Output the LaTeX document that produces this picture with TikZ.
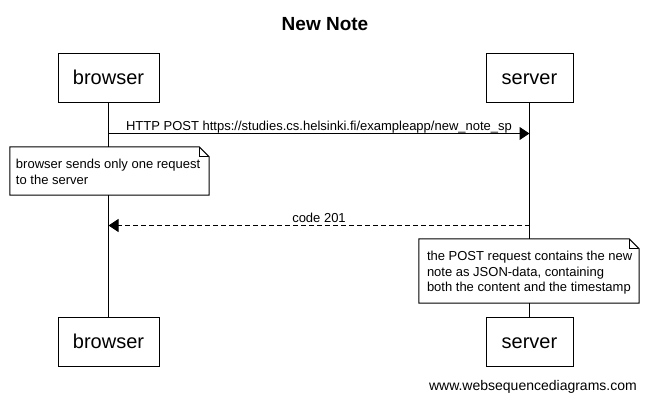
\documentclass[tikz,border=0pt]{standalone}
\usepackage{fontspec}
\setmainfont{Liberation Sans}
\usetikzlibrary{arrows.meta,calc}
\begin{document}
\begin{tikzpicture}[x=1pt,y=-1pt,
  actor/.style={draw,line width=1pt,minimum height=49pt,inner sep=0pt,
    text height=14pt,text depth=0pt,font=\fontsize{20}{24}\selectfont},
  life/.style={line width=1pt},
  msg/.style={line width=1pt,-{Triangle[length=10pt,width=13pt]}},
  reply/.style={msg,dash pattern=on 5pt off 3pt},
  msglabel/.style={font=\fontsize{13}{16}\selectfont,anchor=base,inner sep=0pt,yshift=3.5pt},
  notebox/.style={fill=white,inner sep=0pt},
  notetext/.style={anchor=west,inner sep=0pt,align=left,font=\fontsize{13}{16}\selectfont},
  noteline/.style={line width=1pt,line join=miter}
]
\useasboundingbox (0,0) rectangle (649,400);

\node[font=\fontsize{19}{23}\selectfont\bfseries,anchor=base] (title) at (325,30) {New Note};

\node[actor,minimum width=101pt] (bt) at (108.5,77.5) {browser};
\node[actor,minimum width=87pt] (st) at (529.5,77.5) {server};
\node[actor,minimum width=101pt] (bb) at (108.5,341.5) {browser};
\node[actor,minimum width=87pt] (sb) at (529.5,341.5) {server};

\draw[life] (bt.south) -- (bb.north);
\draw[life] (st.south) -- (sb.north);

\path (bt.south) ++(0,31) coordinate (b1);
\path (st.south) ++(0,31) coordinate (s1);
\path (bt.south) ++(0,123) coordinate (b2);
\path (st.south) ++(0,123) coordinate (s2);

\draw[msg] (b1) -- (s1) node[msglabel,midway] {HTTP POST https://studies.cs.helsinki.fi/exampleapp/new\_note\_sp};
\draw[reply] (s2) -- (b2) node[msglabel,midway] {code 201};

% note 1
\node[notebox,minimum width=199pt,minimum height=48pt] (n1box) at (109.5,171) {};
\draw[noteline] (n1box.north west) -- ($(n1box.north east)+(-10,0)$) -- ($(n1box.north east)+(0,10)$)
  -- (n1box.south east) -- (n1box.south west) -- cycle;
\draw[noteline] ($(n1box.north east)+(-10,0)$) -- ($(n1box.north east)+(-10,10)$) -- ($(n1box.north east)+(0,10)$);
\node[notetext] (n1) at ($(n1box.west)+(6,1)$) {browser sends only one request\\to the server};

% note 2
\node[notebox,minimum width=220pt,minimum height=64pt] (n2box) at (529,271) {};
\draw[noteline] (n2box.north west) -- ($(n2box.north east)+(-10,0)$) -- ($(n2box.north east)+(0,10)$)
  -- (n2box.south east) -- (n2box.south west) -- cycle;
\draw[noteline] ($(n2box.north east)+(-10,0)$) -- ($(n2box.north east)+(-10,10)$) -- ($(n2box.north east)+(0,10)$);
\node[notetext,font=\fontsize{13}{15.5}\selectfont] (n2) at ($(n2box.west)+(8,2)$)
  {the POST request contains the new\\note as JSON-data, containing\\both the content and the timestamp};

\node[font=\fontsize{14}{17}\selectfont,anchor=base east,inner sep=0pt] (footer) at (637,390)
  {www.websequencediagrams.com};
\end{tikzpicture}
\end{document}
